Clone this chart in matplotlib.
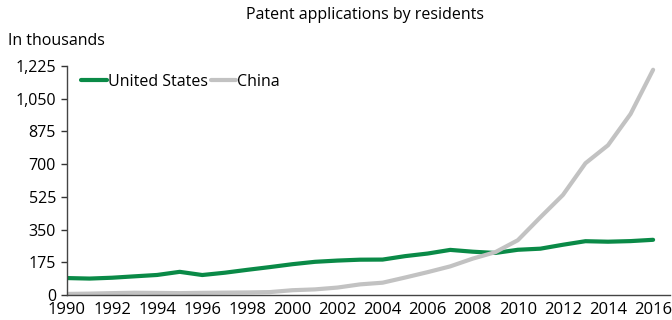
import matplotlib.pyplot as plt
from matplotlib.ticker import FuncFormatter

plt.rcParams['font.family'] = ['Open Sans', 'DejaVu Sans']

years = list(range(1990, 2017))
us = [90.6, 87.9, 92.4, 99.9, 107.2, 123.9, 106.9, 119.2, 134.7, 149.3,
      164.8, 177.5, 184.2, 188.9, 189.5, 207.9, 221.8, 241.3, 231.6, 224.9,
      241.9, 247.8, 268.8, 287.8, 285.1, 288.3, 295.3]
china = [5.8, 7.4, 10.0, 12.1, 11.2, 10.0, 11.6, 12.7, 13.7, 15.6,
         25.6, 30.0, 39.8, 56.8, 65.8, 93.5, 122.3, 153.1, 194.6, 229.1,
         293.1, 415.8, 535.3, 704.9, 801.1, 968.3, 1204.9]
yticks = [0, 175, 350, 525, 700, 875, 1050, 1225]
xticks = list(range(1990, 2017, 2))

fig = plt.figure(figsize=(6.72, 3.2), dpi=100)
ax = fig.add_axes([67/672, 25/320, 603/672, 229/320])

ax.plot(years, us, color='#0a8a47', lw=3, label='United States', solid_capstyle='round')
ax.plot(years, china, color='#c2c2c2', lw=3, label='China', solid_capstyle='round')

ax.set_xlim(1990, 2016.75)
ax.set_ylim(0, 1225)
ax.set_yticks(yticks)
ax.set_xticks(xticks)
ax.yaxis.set_major_formatter(FuncFormatter(lambda v, p: f'{int(v):,}'))
ax.tick_params(axis='y', length=4, width=1, color='#333333', labelsize=11.5, pad=4)
ax.tick_params(axis='x', length=0, labelsize=12, pad=5)
for s in ['top', 'right']:
    ax.spines[s].set_visible(False)
for s in ['left', 'bottom']:
    ax.spines[s].set_color('#444444')
    ax.spines[s].set_linewidth(1)

ax.legend(loc='upper left', bbox_to_anchor=(0.0, 1.03), ncol=2, frameon=False,
          fontsize=11.5, handlelength=1.6, handletextpad=0.05, columnspacing=0.2,
          borderaxespad=0.5)

fig.text(365/672, 1 - 15/320, 'Patent applications by residents', ha='center', va='center', fontsize=11.5)
fig.text(8/672, 1 - 41/320, 'In thousands', ha='left', va='center', fontsize=11.5)

fig.savefig('out.png', dpi=100)
